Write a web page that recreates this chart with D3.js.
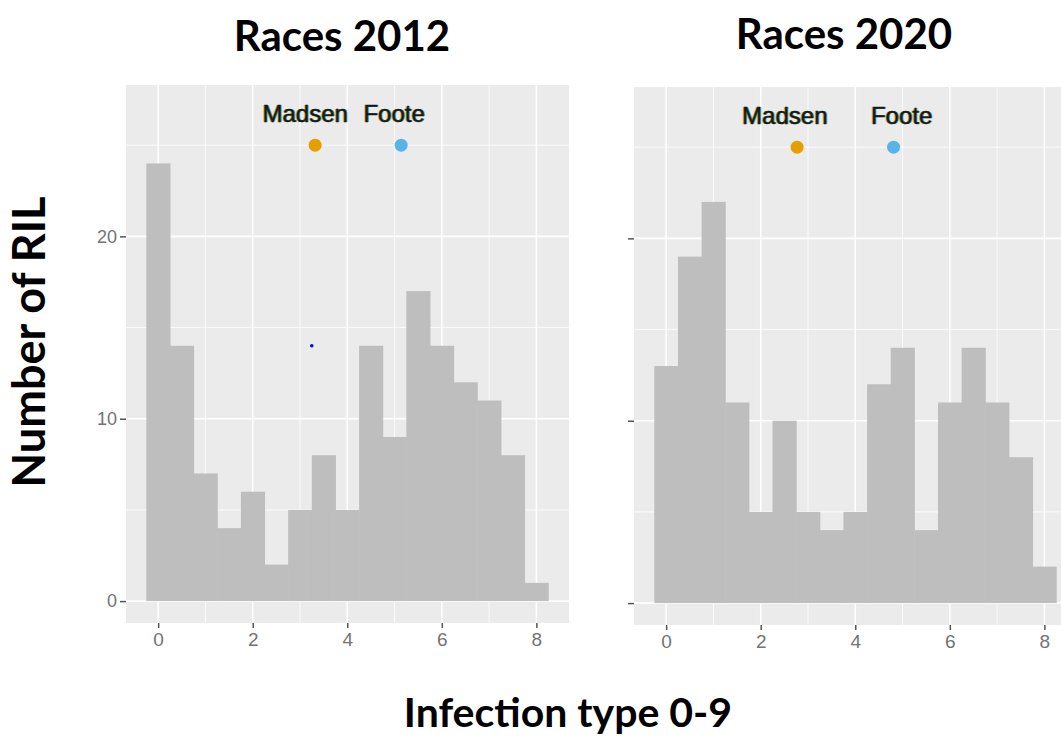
<!DOCTYPE html>
<html>
<head>
<meta charset="utf-8">
<script src="https://cdn.jsdelivr.net/npm/d3@7"></script>
<style>
  body { margin: 0; background: #fff; }
  svg { display: block; }
</style>
</head>
<body>
<div id="chart"></div>
<script>
// histogram bins (binwidth 0.5), counts
const binCenters = [0, 0.5, 1, 1.5, 2, 2.5, 3, 3.5, 4, 4.5, 5, 5.5, 6, 6.5, 7, 7.5, 8]
const binWidth = 0.5
const counts2012 = [24, 14, 7, 4, 6, 2, 5, 8, 5, 14, 9, 17, 14, 12, 11, 8, 1]
const counts2020 = [13, 19, 22, 11, 5, 10, 5, 4, 5, 12, 14, 4, 11, 14, 11, 8, 2]

// parent lines
const parents = ['Madsen', 'Foote']
const parentColors = ['#E69F00', '#56B4E9']
const parentX2012 = [3.32, 5.14]
const parentX2020 = [2.77, 4.81]
const parentY = 25
const labelX2012 = [3.11, 4.99]
const labelX2020 = [2.51, 4.98]
const labelY = 26.75

// stray point in the 2012 panel
const strayX = [3.25]
const strayY = [14]

const xTicks = [0, 2, 4, 6, 8]
const xMinor = [1, 3, 5, 7]
const yTicks = [0, 10, 20]
const yMinor = [5, 15, 25]

const W = 1061, H = 738

const svg = d3.select('#chart').append('svg')
    .attr('width', W)
    .attr('height', H)

function panel(opts) {
    const g = svg.append('g')
        .attr('transform', `translate(${opts.x},${opts.y})`)
    const w = opts.w, h = opts.h

    const x = d3.scaleLinear().domain([-0.68, 8.69]).range([0, w])
    const y = d3.scaleLinear().domain([-1.2, 28.3]).range([h, 0])

    g.append('rect')
        .attr('width', w)
        .attr('height', h)
        .attr('fill', '#EBEBEB')

    // minor grid
    g.selectAll('.vminor').data(xMinor).join('line')
        .attr('x1', d => x(d)).attr('x2', d => x(d))
        .attr('y1', 0).attr('y2', h)
        .attr('stroke', '#fff').attr('stroke-width', 0.8)
    g.selectAll('.hminor').data(yMinor).join('line')
        .attr('y1', d => y(d)).attr('y2', d => y(d))
        .attr('x1', 0).attr('x2', w)
        .attr('stroke', '#fff').attr('stroke-width', 0.8)
    // major grid
    g.selectAll('.vmajor').data(xTicks).join('line')
        .attr('x1', d => x(d)).attr('x2', d => x(d))
        .attr('y1', 0).attr('y2', h)
        .attr('stroke', '#fff').attr('stroke-width', 1.6)
    g.selectAll('.hmajor').data(yTicks).join('line')
        .attr('y1', d => y(d)).attr('y2', d => y(d))
        .attr('x1', 0).attr('x2', w)
        .attr('stroke', '#fff').attr('stroke-width', 1.6)

    // bars
    g.selectAll('.bar').data(binCenters).join('rect')
        .attr('x', d => x(d - binWidth / 2))
        .attr('width', d => x(d + binWidth / 2) - x(d - binWidth / 2) + 0.5)
        .attr('y', (d, i) => y(opts.counts[i]))
        .attr('height', (d, i) => y(0) - y(opts.counts[i]))
        .attr('fill', '#BEBEBE')

    // stray points
    if (opts.strayX) {
        g.selectAll('.stray').data(opts.strayX).join('circle')
            .attr('cx', d => x(d))
            .attr('cy', (d, i) => y(opts.strayY[i]))
            .attr('r', 1.8)
            .attr('fill', '#0000FF')
    }

    // parent points
    g.selectAll('.parent').data(parents).join('circle')
        .attr('cx', (d, i) => x(opts.parentX[i]))
        .attr('cy', y(parentY))
        .attr('r', 6.5)
        .attr('fill', (d, i) => parentColors[i])

    // labels with a faint colour fringe, like the source
    const fringe = [['#c9a400', -1], ['#1b8f9a', 1], ['#111', 0]]
    fringe.forEach(([col, dx]) => {
        g.selectAll(null).data(parents).join('text')
            .attr('x', (d, i) => x(opts.labelX[i]) + dx)
            .attr('y', y(labelY))
            .attr('dy', '0.35em')
            .attr('text-anchor', 'middle')
            .attr('font-family', '"Liberation Sans", Arial, sans-serif')
            .attr('font-size', '24px')
            .attr('fill', col)
            .attr('stroke', dx === 0 ? '#111' : 'none')
            .attr('stroke-width', 0.4)
            .attr('opacity', dx === 0 ? 0.95 : 0.7)
            .text(d => d)
    })

    // axes
    const xAxis = g.append('g')
        .attr('transform', `translate(0,${h})`)
        .call(d3.axisBottom(x).tickValues(xTicks).tickSize(5).tickPadding(5))
    xAxis.select('.domain').remove()
    xAxis.selectAll('line').attr('stroke', '#555').attr('stroke-width', 1.5)
    xAxis.selectAll('text')
        .attr('fill', '#737373')
        .attr('font-family', '"Liberation Sans", Arial, sans-serif')
        .attr('font-size', '19px')

    const yAxis = g.append('g')
        .call(d3.axisLeft(y).tickValues(yTicks).tickSize(6).tickPadding(3)
            .tickFormat(opts.yLabels ? d3.format('d') : ''))
    yAxis.select('.domain').remove()
    yAxis.selectAll('line').attr('stroke', '#555').attr('stroke-width', 1.5)
    yAxis.selectAll('text')
        .attr('fill', '#737373')
        .attr('font-family', '"Liberation Sans", Arial, sans-serif')
        .attr('font-size', '18px')

    svg.append('text')
        .attr('x', opts.titleX)
        .attr('y', opts.titleY)
        .attr('text-anchor', 'middle')
        .attr('font-family', 'Lato, "Open Sans", sans-serif')
        .attr('font-weight', 'bold')
        .attr('font-size', '42px')
        .attr('fill', '#000')
        .text(opts.title)
}

panel({
    x: 126, y: 85, w: 443, h: 538,
    counts: counts2012,
    parentX: parentX2012, labelX: labelX2012,
    strayX: strayX, strayY: strayY,
    yLabels: true,
    title: 'Races 2012', titleX: 342, titleY: 51
})

panel({
    x: 634, y: 87, w: 443, h: 538,
    counts: counts2020,
    parentX: parentX2020, labelX: labelX2020,
    yLabels: false,
    title: 'Races 2020', titleX: 844, titleY: 49
})

svg.append('text')
    .attr('x', 568)
    .attr('y', 727)
    .attr('text-anchor', 'middle')
    .attr('font-family', 'Lato, "Open Sans", sans-serif')
    .attr('font-weight', 'bold')
    .attr('font-size', '41px')
    .text('Infection type 0-9')

svg.append('text')
    .attr('transform', 'translate(45,342) rotate(-90)')
    .attr('text-anchor', 'middle')
    .attr('font-family', 'Lato, "Open Sans", sans-serif')
    .attr('font-weight', 'bold')
    .attr('font-size', '45px')
    .text('Number of RIL')
</script>
</body>
</html>
